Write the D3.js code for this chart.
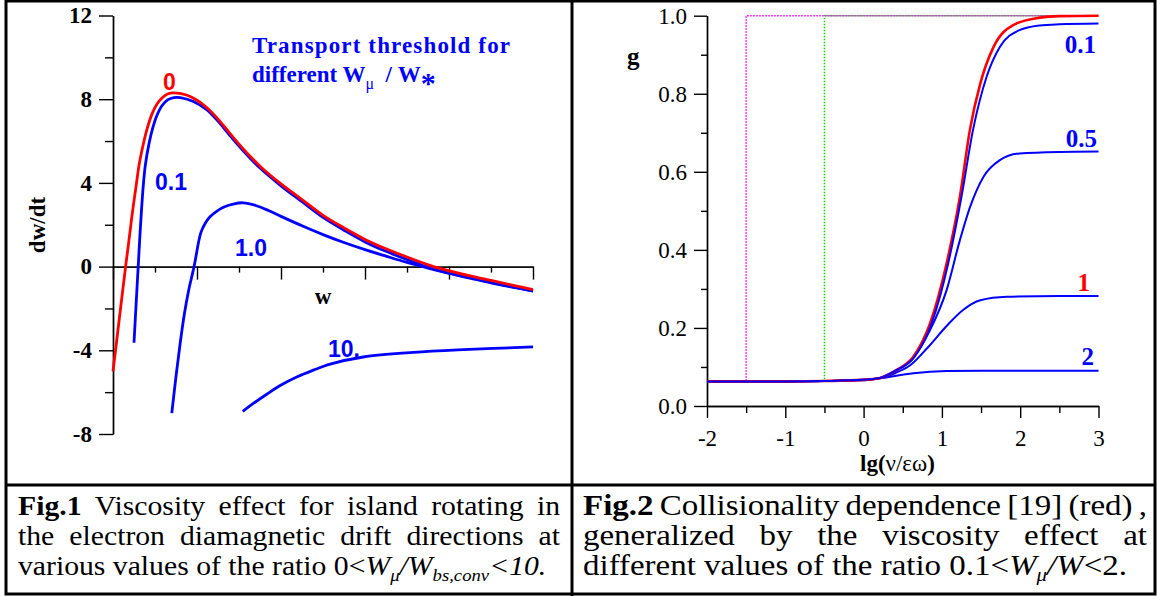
<!DOCTYPE html>
<html>
<head>
<meta charset="utf-8">
<script src="https://cdn.jsdelivr.net/npm/d3@7"></script>
<style>
  body { margin: 0; background: #fff; }
  svg { display: block; }
  text { font-family: "Liberation Serif", "Times New Roman", serif; }
</style>
</head>
<body>
<svg id="fig" width="1157" height="596"></svg>
<script>
// ---- Fig.1 data: dw/dt versus w for several W_mu / W_* ----
var wRed   = [0, 0.15, 0.3, 0.37, 0.45, 0.56, 0.62, 0.71, 0.8, 0.92, 1.04, 1.16, 1.3, 1.43, 1.75, 2.0, 2.23, 2.5, 2.75, 3.0, 3.25, 3.5, 4.0, 4.5, 5.0, 5.5, 6.0, 6.5, 7.0, 7.63, 8.0, 8.5, 9.0, 9.5, 10];
var dRed   = [-5.0, -2.5, 0, 1.1, 2.4, 4.0, 4.85, 5.75, 6.5, 7.25, 7.75, 8.05, 8.25, 8.3, 8.2, 7.95, 7.6, 7.05, 6.45, 5.85, 5.3, 4.8, 3.95, 3.2, 2.45, 1.85, 1.3, 0.85, 0.46, 0.0, -0.2, -0.44, -0.66, -0.88, -1.1];

var wB01   = [0.5, 0.55, 0.6, 0.64, 0.68, 0.72, 0.77, 0.86, 0.95, 1.04, 1.17, 1.31, 1.45, 1.6, 1.9, 2.23, 2.5, 2.75, 3.0, 3.25, 3.5, 4.0, 4.5, 5.0, 5.5, 6.0, 6.5, 7.0, 7.5, 8.0, 8.5, 9.0, 9.5, 10];
var dB01   = [-3.64, -1.8, 0, 1.45, 2.75, 3.85, 4.85, 5.9, 6.65, 7.2, 7.7, 7.98, 8.08, 8.08, 7.9, 7.5, 6.95, 6.35, 5.76, 5.21, 4.71, 3.86, 3.1, 2.35, 1.74, 1.18, 0.73, 0.34, -0.03, -0.3, -0.53, -0.75, -0.96, -1.16];

var wB1    = [1.4, 1.5, 1.6, 1.7, 1.8, 1.93, 2.09, 2.2, 2.31, 2.45, 2.63, 2.86, 3.1, 3.4, 3.7, 4.0, 4.5, 5.0, 5.5, 6.0, 6.5, 7.0, 7.5, 8.0, 8.5, 9.0, 9.5, 10];
var dB1    = [-7.0, -5.25, -3.65, -2.25, -1.15, 0, 1.61, 2.08, 2.38, 2.62, 2.84, 2.99, 3.05, 2.92, 2.68, 2.4, 1.95, 1.53, 1.15, 0.81, 0.5, 0.2, -0.07, -0.32, -0.55, -0.78, -0.98, -1.17];

var wB10   = [3.09, 3.3, 3.66, 3.98, 4.4, 4.77, 5.17, 5.96, 7.15, 8.34, 10];
var dB10   = [-6.92, -6.6, -6.1, -5.68, -5.25, -4.95, -4.66, -4.32, -4.1, -3.97, -3.84];

var fig1Ticks  = [-8, -4, 0, 4, 8, 12];
var fig1Minor  = [-6, -2, 2, 6, 10];
var fig1XMajor = [0, 2, 4, 6, 8, 10];
var fig1XMinor = [1, 3, 5, 7, 9];

// ---- Fig.2 data: g versus lg(nu/eps omega) ----
var lgRed  = [-2, -1, -0.5, 0, 0.21, 0.4, 0.635, 0.85, 1.06, 1.23, 1.36, 1.49, 1.66, 1.91, 2.25, 2.5, 3];
var gRed   = [0.063, 0.063, 0.064, 0.067, 0.072, 0.09, 0.126, 0.212, 0.365, 0.536, 0.71, 0.826, 0.92, 0.976, 0.995, 0.999, 1.0];

var lgB01  = [-2, -1, -0.5, 0, 0.21, 0.4, 0.65, 0.87, 1.08, 1.25, 1.4, 1.57, 1.74, 1.99, 2.25, 2.5, 3];
var gB01   = [0.063, 0.063, 0.064, 0.067, 0.072, 0.09, 0.126, 0.212, 0.365, 0.536, 0.71, 0.843, 0.92, 0.963, 0.975, 0.978, 0.98];

var lgB05  = [-2, -1, -0.5, 0, 0.21, 0.4, 0.63, 0.85, 1.06, 1.23, 1.36, 1.53, 1.74, 1.99, 2.5, 3];
var gB05   = [0.063, 0.063, 0.064, 0.067, 0.072, 0.088, 0.122, 0.195, 0.297, 0.425, 0.51, 0.587, 0.63, 0.647, 0.651, 0.652];

var lgB1   = [-2, -1, -0.5, 0, 0.21, 0.4, 0.6, 0.82, 1.06, 1.27, 1.49, 1.83, 2.5, 3];
var gB1    = [0.063, 0.063, 0.064, 0.067, 0.071, 0.084, 0.105, 0.15, 0.205, 0.246, 0.271, 0.28, 0.282, 0.282];

var lgB2   = [-2, -1, -0.5, 0, 0.21, 0.635, 1.06, 1.5, 2, 3];
var gB2    = [0.063, 0.063, 0.064, 0.066, 0.071, 0.084, 0.0896, 0.0905, 0.0905, 0.0905];

var fig2YMajor = [0, 0.2, 0.4, 0.6, 0.8, 1.0];
var fig2YMinor = [0.1, 0.3, 0.5, 0.7, 0.9];
var fig2XMajor = [-2, -1, 0, 1, 2, 3];
var fig2XMinor = [-1.5, -0.5, 0.5, 1.5, 2.5];
var magentaLg = -1.5, greenLg = -0.5, dotFloor = 0.065;

var svg = d3.select("#fig");
var RED = "#ff0000", BLUE = "#0000ff";
var SERIF = "'Liberation Serif', 'Times New Roman', serif";
var plain = function (d) { return String(d); };

function zip(xs, ys) { return xs.map(function (x, i) { return [x, ys[i]]; }); }

// ================= Fig.1 =================
var x1 = d3.scaleLinear().domain([0, 10]).range([113, 533]);
var y1 = d3.scaleLinear().domain([-8, 12]).range([434, 15.5]);
var g1 = svg.append("g");

g1.append("g").attr("transform", "translate(113,0)")
    .call(d3.axisLeft(y1).tickValues(fig1Minor).tickSize(8).tickSizeOuter(0).tickFormat(""));
g1.append("g").attr("class", "ax1y").attr("transform", "translate(113,0)")
    .call(d3.axisLeft(y1).tickValues(fig1Ticks).tickSize(14).tickSizeOuter(0).tickPadding(7).tickFormat(plain));
g1.append("g").attr("transform", "translate(0," + y1(0) + ")")
    .call(d3.axisBottom(x1).tickValues(fig1XMinor).tickSize(6).tickSizeOuter(0).tickFormat(""));
g1.append("g").attr("transform", "translate(0," + y1(0) + ")")
    .call(d3.axisBottom(x1).tickValues(fig1XMajor).tickSize(13).tickSizeOuter(0).tickFormat(""));
g1.selectAll(".ax1y").attr("font-family", SERIF);
g1.selectAll(".ax1y text").style("font-family", SERIF)
    .style("font-size", "23px").style("font-weight", "bold").attr("fill", "#000");
g1.selectAll(".domain, .tick line").attr("stroke-width", 1.4);

var line1 = d3.line().x(function (d) { return x1(d[0]); }).y(function (d) { return y1(d[1]); })
    .curve(d3.curveCatmullRom.alpha(0.5));
[[wB10, dB10, BLUE], [wB1, dB1, BLUE], [wB01, dB01, BLUE], [wRed, dRed, RED]].forEach(function (s) {
    g1.append("path").datum(zip(s[0], s[1])).attr("d", line1)
        .attr("fill", "none").attr("stroke", s[2]).attr("stroke-width", 2.8);
});

function sansLabel(g, txt, x, y, col) {
    g.append("text").attr("x", x).attr("y", y).text(txt)
        .style("font-family", "'Liberation Sans', Arial, sans-serif")
        .style("font-weight", "bold").style("font-size", "23px").attr("fill", col);
}
sansLabel(g1, "0", 163, 90, RED);
sansLabel(g1, "0.1", 155, 190, BLUE);
sansLabel(g1, "1.0", 235, 256, BLUE);
sansLabel(g1, "10.", 328, 357, BLUE);

g1.append("text").attr("x", 323).attr("y", 304).attr("text-anchor", "middle")
    .style("font-size", "23px").style("font-weight", "bold").text("w");
g1.append("text").attr("transform", "translate(45,225) rotate(-90)").attr("text-anchor", "middle")
    .style("font-size", "23px").style("font-weight", "bold").text("dw/dt");

var ttl = g1.append("g").attr("fill", BLUE).style("font-weight", "bold").style("font-size", "23px");
ttl.append("text").attr("x", 252).attr("y", 53).attr("textLength", 258).text("Transport threshold for");
var t2 = ttl.append("text").attr("x", 252).attr("y", 82);
t2.append("tspan").text("different W");
t2.append("tspan").attr("dy", 7).style("font-size", "16px").style("font-weight", "normal").text("\u03bc");
t2.append("tspan").attr("dy", -7).text("\u00a0\u00a0/ W");
t2.append("tspan").attr("dy", 11).style("font-size", "30px").text("*");

// ================= Fig.2 =================
var x2 = d3.scaleLinear().domain([-2, 3]).range([707, 1098.5]);
var y2 = d3.scaleLinear().domain([0, 1]).range([406, 15.7]);
var g2 = svg.append("g");

// dotted guide lines (green under magenta, dots interleaved)
[[greenLg, "#00dd00", 1.5], [magentaLg, "#ff00ff", 0]].forEach(function (s) {
    g2.append("path")
        .datum([[s[0], dotFloor], [s[0], 1], [3, 1]])
        .attr("d", d3.line().x(function (d) { return x2(d[0]); }).y(function (d) { return y2(d[1]); }))
        .attr("fill", "none").attr("stroke", s[1]).attr("stroke-width", 1.5)
        .attr("stroke-dasharray", "1.5,1.5").attr("stroke-dashoffset", s[2]);
});

g2.append("g").attr("transform", "translate(707,0)")
    .call(d3.axisLeft(y2).tickValues(fig2YMinor).tickSize(6).tickSizeOuter(0).tickFormat(""));
g2.append("g").attr("class", "ax2y").attr("transform", "translate(707,0)")
    .call(d3.axisLeft(y2).tickValues(fig2YMajor).tickSize(13).tickSizeOuter(0).tickPadding(7).tickFormat(d3.format(".1f")));
g2.append("g").attr("transform", "translate(0,406)")
    .call(d3.axisBottom(x2).tickValues(fig2XMinor).tickSize(7).tickSizeOuter(0).tickFormat(""));
g2.append("g").attr("class", "ax2x").attr("transform", "translate(0,406)")
    .call(d3.axisBottom(x2).tickValues(fig2XMajor).tickSize(12).tickSizeOuter(0).tickFormat(plain));
g2.selectAll(".ax2y, .ax2x").attr("font-family", SERIF);
g2.selectAll(".ax2y text, .ax2x text").style("font-family", SERIF).style("font-size", "23px").attr("fill", "#000");
g2.selectAll(".ax2x text").attr("y", 40).attr("dy", null);
g2.selectAll(".domain, .tick line").attr("stroke-width", 1.4);

var line2 = d3.line().x(function (d) { return x2(d[0]); }).y(function (d) { return y2(d[1]); })
    .curve(d3.curveMonotoneX);
[[lgB2, gB2, BLUE, 2], [lgB1, gB1, BLUE, 2], [lgB05, gB05, BLUE, 2], [lgRed, gRed, RED, 2.6], [lgB01, gB01, BLUE, 2]].forEach(function (s) {
    g2.append("path").datum(zip(s[0], s[1])).attr("d", line2)
        .attr("fill", "none").attr("stroke", s[2]).attr("stroke-width", s[3]);
});

function serifLabel(g, txt, x, y, col) {
    g.append("text").attr("x", x).attr("y", y).attr("text-anchor", "end").text(txt)
        .style("font-weight", "bold").style("font-size", "25px").attr("fill", col);
}
serifLabel(g2, "0.1", 1096, 53, BLUE);
serifLabel(g2, "0.5", 1097, 147, BLUE);
serifLabel(g2, "1", 1090, 291, RED);
serifLabel(g2, "2", 1094, 365, BLUE);

g2.append("text").attr("x", 627).attr("y", 65).style("font-size", "25px").style("font-weight", "bold").text("g");
var xl = g2.append("text").attr("x", 860).attr("y", 471).style("font-size", "23px");
xl.append("tspan").style("font-weight", "bold").text("lg(");
xl.append("tspan").text("\u03bd/\u03b5\u03c9");
xl.append("tspan").style("font-weight", "bold").text(")");

// ================= table frame =================
var frame = svg.append("g").attr("stroke", "#000").attr("stroke-width", 3).attr("fill", "none");
frame.append("rect").attr("x", 6).attr("y", 1).attr("width", 1149).attr("height", 593);
frame.append("line").attr("x1", 572).attr("x2", 572).attr("y1", 0).attr("y2", 596);
frame.append("line").attr("x1", 6).attr("x2", 1155).attr("y1", 485).attr("y2", 485);

// ================= captions =================
// each line: list of words, each word a list of [text, style] runs
var cap1 = [
    [[["Fig.1", "b"]], [["Viscosity"]], [["effect"]], [["for"]], [["island"]], [["rotating"]], [["in"]]],
    [[["the"]], [["electron"]], [["diamagnetic"]], [["drift"]], [["directions"]], [["at"]]],
    [[["various"]], [["values"]], [["of"]], [["the"]], [["ratio"]],
     [["0<"], ["W", "i"], ["\u03bc", "s"], ["/W", "i"], ["bs,conv", "s"], ["<10.", "i"]]]
];
var cap2 = [
    [[["Fig.2", "b"]], [["Collisionality"]], [["dependence"]], [["[19]"]], [["(red)"]], [[","]]],
    [[["generalized"]], [["by"]], [["the"]], [["viscosity"]], [["effect"]], [["at"]]],
    [[["different"]], [["values"]], [["of"]], [["the"]], [["ratio"]],
     [["0.1<"], ["W", "i"], ["\u03bc", "s"], ["/W", "i"], ["<2."]]]
];
var capBase = [515, 545, 575];

function setLine(parent, words, x0, x1, y, justify, size, sx) {
    var g = parent.append("g").attr("transform", "translate(" + x0 + "," + y + ") scale(" + sx + ",1)");
    var nodes = words.map(function (w) {
        var t = g.append("text").attr("y", 0).style("font-size", size + "px");
        var shift = 0;
        w.forEach(function (r) {
            var sp = t.append("tspan").text(r[0]);
            var st = r[1] || "";
            if (st === "b") sp.style("font-weight", "bold");
            if (st === "i") sp.style("font-style", "italic");
            if (st === "s") {
                sp.style("font-style", "italic").style("font-size", Math.round(size * 0.62) + "px");
                if (shift === 0) { sp.attr("dy", 6); shift = 6; }
            } else if (shift !== 0) { sp.attr("dy", -shift); shift = 0; }
        });
        return t;
    });
    var widths = nodes.map(function (n) { return n.node().getComputedTextLength(); });
    var avail = (x1 - x0) / sx;
    var gap = justify ? (avail - d3.sum(widths)) / (words.length - 1) : size * 0.25;
    var x = 0;
    nodes.forEach(function (n, i) { n.attr("x", x); x += widths[i] + gap; });
}
var capG = svg.append("g").attr("fill", "#000");
cap1.forEach(function (ln, i) { setLine(capG, ln, 18, 560, capBase[i], i < 2, 27, 1.1); });
cap2.forEach(function (ln, i) { setLine(capG, ln, 583, 1147, capBase[i], i < 2, 28.5, 1.157); });
</script>
</body>
</html>
